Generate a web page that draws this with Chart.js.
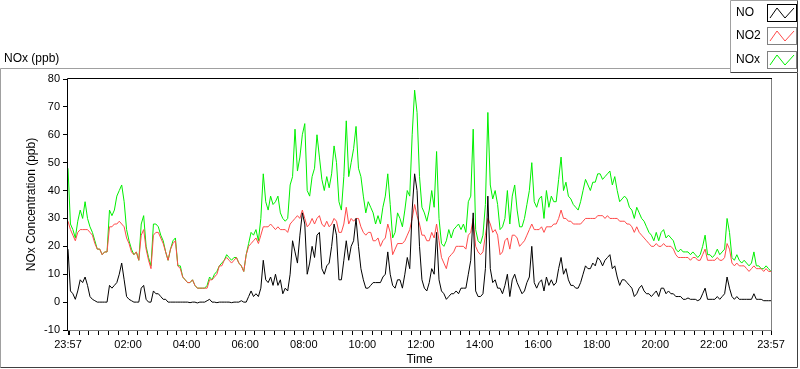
<!DOCTYPE html>
<html>
<head>
<meta charset="utf-8">
<script src="https://cdn.jsdelivr.net/npm/chart.js@4.4.1/dist/chart.umd.min.js"></script>
<style>
  body { margin: 0; background: #fff; }
  canvas { display: block; }
</style>
</head>
<body>
<canvas id="noxChart" width="800" height="369"></canvas>
<script>
// sampling: one value every 5 minutes, starting 23:57
const startClock = 23 * 60 + 57;
const stepMinutes = 5;

const seriesNames = ['NO', 'NO2', 'NOx'];

const noValues = [
  19, 4, 3, 1, 4, 8, 7, 9, 6, 2, 1, 0.5,
  0, 0, 0, 0, 0, 6, 5, 6, 7, 10, 14, 8,
  2, 1, 0.5, 0, 0, 0, 5, 6, 1, 0, 0, 4,
  3, 3, 2, 1, 1, 0, 0, 0, 0, 0, 0, 0,
  0, 0, -0.2, 0, 0, -0.3, 0, 0, 0, 0.5, 1, 0,
  0, -0.2, 0, 0, 0, 0, 0, -0.2, 0, 0, 0, 0.5,
  0, 0, 2, 4, 2, 3, 2, 5, 15, 8, 7, 9,
  6, 10, 6, 8, 3, 5, 4, 10, 22, 18, 14, 24,
  32, 28, 10, 14, 20, 16, 24, 25, 12, 10, 13, 14,
  20, 28, 24, 8, 8, 15, 22, 15, 20, 22, 30, 20,
  12, 8, 5, 5, 6, 7, 7, 7, 7, 9, 10, 18,
  10, 6, 5, 8, 8, 5, 10, 16, 12, 33, 46, 40,
  20, 8, 5, 4, 7, 12, 10, 25, 8, 4, 3, 1,
  2, 3, 3, 4, 3, 5, 5, 5, 10, 15, 32, 4,
  2, 2, 3, 12, 38, 12, 7, 8, 5, 5, 3, 6,
  10, 2, 8, 10, 7, 5, 3, 4, 7, 9, 20, 7,
  5, 7, 8, 4, 9, 6, 8, 6, 7, 12, 16, 10,
  12, 8, 6, 6, 5, 5, 7, 10, 13, 12, 12, 14,
  13, 16, 15, 13, 15, 16, 17, 12, 13, 9, 6, 8,
  8, 7, 6, 5, 2, 3, 5, 6, 4, 3, 3, 2,
  3, 4, 2, 5, 5, 3, 4, 3, 3, 2, 2, 2,
  1, 1, 1.5, 1, 1, 1, 0.5, 1, 3, 5, 1, 1,
  1, 1, 2, 1, 2, 3, 9, 5, 2, 1, 2, 1,
  1, 1, 1, 1, 1, 3, 1, 1, 1, 0.5, 0.5, 0.5,
  0.5
];

const no2Values = [
  29, 26, 24, 22, 25, 26, 26, 26, 26, 25, 24, 21,
  19, 19, 17, 18, 18, 27, 27, 28, 28, 29, 28, 27,
  23, 21, 18, 17, 18, 15, 24, 26, 19, 15, 12, 24,
  25, 25, 23, 21, 18, 15, 19, 21, 22, 13, 12, 9,
  8, 7, 7, 8, 6, 5, 5, 5, 5, 5, 8, 8,
  9, 10, 13, 13, 15, 16, 15, 14, 15, 16, 14, 13,
  11, 17, 20, 21, 22, 23, 21, 24, 27, 27, 27, 28,
  27, 26, 27, 26, 26, 26, 25, 28, 29, 30, 31, 30,
  33, 30, 27, 28, 30, 28, 30, 31, 28, 27, 29, 27,
  28, 30, 29, 25, 25, 28, 34, 28, 30, 29, 30, 30,
  27, 25, 24, 25, 25, 22, 22, 23, 20, 22, 23, 28,
  25, 17, 19, 21, 21, 21, 22, 24, 26, 30, 35, 31,
  28, 24, 24, 22, 22, 25, 23, 28, 22, 16, 14, 12,
  16, 17, 18, 20, 20, 20, 20, 19, 24, 25, 30, 20,
  18, 17, 18, 24, 30, 28, 25, 26, 24, 17, 18, 22,
  23, 19, 24, 24, 23, 20, 21, 22, 24, 26, 28, 26,
  26, 26, 27, 25, 27, 27, 27, 28, 28, 30, 33, 30,
  30, 29, 29, 28, 28, 28, 28, 29, 30, 30, 30, 30,
  30, 31, 31, 31, 30, 31, 30, 30, 30, 30, 29, 29,
  29, 28, 28, 27, 25, 27, 25, 24, 23, 22, 21, 20,
  20, 21, 20, 20, 21, 20, 20, 20, 19, 17, 16, 16,
  16, 16, 16, 15, 16, 16, 15, 15, 17, 19, 15, 15,
  15, 15, 16, 15, 15, 16, 21, 19, 14, 13, 14, 13,
  13, 13, 12, 11, 12, 13, 12, 12, 12, 11, 12, 11,
  11
];

const noxValues = [
  48, 28, 26, 23, 29, 33, 30, 36, 30, 27, 25, 22,
  19, 19, 17, 18, 18, 33, 31, 33, 38, 40, 42, 36,
  26, 22, 19, 17, 18, 15, 28, 31, 20, 16, 13, 28,
  28, 27, 24, 22, 18, 15, 19, 22, 23, 13, 13, 9,
  8, 7, 7, 8, 6, 5, 5, 5, 5, 6, 9, 8,
  10, 11, 13, 14, 15, 17, 16, 15, 16, 16, 14, 13,
  11, 17, 21, 25, 24, 26, 22, 30, 46, 36, 33, 38,
  35, 36, 38, 32, 30, 29, 30, 42, 45, 62, 47, 52,
  60, 64, 40, 38, 45, 48, 60, 52, 44, 40, 45, 41,
  46, 56, 50, 36, 33, 45, 65, 45, 50, 55, 63, 48,
  45, 38, 32, 36, 34, 32, 28, 31, 28, 34, 38, 46,
  35, 23, 25, 32, 30, 27, 33, 40, 38, 60, 76, 68,
  45, 34, 32, 29, 33, 40, 34, 54, 30, 21, 20, 22,
  26, 23, 26, 27, 28, 26, 28, 25, 36, 38, 62, 26,
  22, 21, 24, 35, 68, 42, 37, 40, 35, 26, 27, 30,
  40, 28, 38, 42, 33, 27, 27, 30, 35, 40, 50, 36,
  34, 37, 38, 30, 40, 34, 38, 36, 36, 44, 52, 40,
  43, 38, 37, 35, 34, 33, 36, 40, 44, 42, 40, 43,
  43, 46, 46, 44, 45, 46, 47, 42, 45, 40, 36, 37,
  38, 37, 34, 33, 30, 34, 32, 30, 29, 27, 25, 24,
  22, 25, 22, 25, 26, 23, 24, 23, 22, 19, 18, 19,
  18, 18, 18, 17, 18, 17, 16, 17, 20, 24, 17, 17,
  16, 17, 19, 17, 18, 19, 30, 25, 16, 15, 17, 15,
  14, 15, 14, 13, 14, 18, 13, 13, 12, 12, 13, 12,
  11
];

const yTicks = [-10, 0, 10, 20, 30, 40, 50, 60, 70, 80];
const xTickLabels = ['23:57', '02:00', '04:00', '06:00', '08:00', '10:00', '12:00',
                     '14:00', '16:00', '18:00', '20:00', '22:00', '23:57'];

const seriesColors = ['#000000', '#ff4a4a', '#00f000'];
const uiFont = "'Liberation Sans', Arial, sans-serif";

// minutes after 23:57 for a clock string
function offsetOf(txt, i) {
  if (i === xTickLabels.length - 1) return 1440;
  const [h, m] = txt.split(':').map(Number);
  return ((h * 60 + m) - startClock + 1440) % 1440;
}
const tickText = {};
xTickLabels.forEach((t, i) => { tickText[offsetOf(t, i)] = t; });

// minor ticks every 20 clock minutes
const xTickValues = [0];
for (let v = 3; v < 1440; v += 20) xTickValues.push(v);
xTickValues.push(1440);

const xMinutes = noValues.map((_, i) => i * stepMinutes);
const toXY = vals => vals.map((v, i) => ({ x: xMinutes[i], y: v }));

const framePlugin = {
  id: 'frame',
  beforeDraw(chart) {
    const c = chart.ctx;
    c.save();
    c.fillStyle = '#fff';
    c.fillRect(0, 0, chart.width, chart.height);
    // outer panel
    c.lineWidth = 1;
    c.strokeStyle = '#a0a0a0';
    c.beginPath();
    c.moveTo(0.5, 367.5); c.lineTo(0.5, 68.5); c.lineTo(797.5, 68.5);
    c.stroke();
    c.strokeStyle = '#404040';
    c.beginPath();
    c.moveTo(797.5, 68.5); c.lineTo(797.5, 367.5); c.lineTo(0.5, 367.5);
    c.stroke();
    // panel caption
    c.fillStyle = '#000';
    c.font = '12px ' + uiFont;
    c.textBaseline = 'middle';
    c.fillText('NOx (ppb)', 4, 59);
    c.restore();
  },
  afterDatasetsDraw(chart) {
    const c = chart.ctx;
    const a = chart.chartArea;
    c.save();
    c.lineWidth = 1;
    c.strokeStyle = '#000';
    c.beginPath();
    c.moveTo(a.left - 0.5, a.bottom + 1); c.lineTo(a.left - 0.5, a.top - 0.5); c.lineTo(a.right + 1, a.top - 0.5);
    c.stroke();
    c.strokeStyle = '#808080';
    c.beginPath();
    c.moveTo(a.right + 0.5, a.top); c.lineTo(a.right + 0.5, a.bottom + 0.5); c.lineTo(a.left, a.bottom + 0.5);
    c.stroke();
    c.restore();
  },
  afterDraw(chart) {
    const c = chart.ctx;
    c.save();
    // legend box
    c.fillStyle = '#fff';
    c.fillRect(730, 0, 68, 73);
    c.strokeStyle = '#a0a0a0';
    c.lineWidth = 1;
    c.beginPath();
    c.moveTo(730.5, 72.5); c.lineTo(730.5, 0.5); c.lineTo(797.5, 0.5);
    c.stroke();
    c.strokeStyle = '#404040';
    c.beginPath();
    c.moveTo(797.5, 0.5); c.lineTo(797.5, 72.5); c.lineTo(730.5, 72.5);
    c.stroke();
    c.font = '12px ' + uiFont;
    c.textBaseline = 'middle';
    chart.data.datasets.forEach((ds, i) => {
      const y = 3.5 + i * 23.5;
      c.fillStyle = '#000';
      c.fillText(ds.label, 736, y + 9);
      c.strokeStyle = i === 0 ? '#000' : '#808080';
      c.strokeRect(767.5, Math.round(y) + 0.5, 29, 17);
      c.strokeStyle = ds.borderColor;
      c.beginPath();
      const by = Math.round(y);
      c.moveTo(770, by + 14); c.lineTo(777, by + 4); c.lineTo(785, by + 14); c.lineTo(794, by + 4);
      c.stroke();
    });
    c.restore();
  }
};

const ctx = document.getElementById('noxChart').getContext('2d');
const noxChart = new Chart(ctx, {
  type: 'line',
  data: {
    datasets: [
      { label: seriesNames[0], data: toXY(noValues), borderColor: seriesColors[0] },
      { label: seriesNames[1], data: toXY(no2Values), borderColor: seriesColors[1] },
      { label: seriesNames[2], data: toXY(noxValues), borderColor: seriesColors[2] }
    ]
  },
  options: {
    responsive: false,
    animation: false,
    layout: { padding: { top: 79, right: 29, left: 0, bottom: 0 } },
    elements: {
      point: { radius: 0 },
      line: { borderWidth: 1, tension: 0 }
    },
    plugins: {
      legend: { display: false },
      tooltip: { enabled: false }
    },
    scales: {
      x: {
        type: 'linear',
        min: 0,
        max: 1440,
        afterBuildTicks: s => { s.ticks = xTickValues.map(v => ({ value: v })); },
        afterFit: s => { s.height = 39; },
        ticks: {
          autoSkip: false,
          maxRotation: 0,
          padding: 3,
          color: '#000',
          font: { family: uiFont, size: 11 },
          callback: v => tickText[v] || ''
        },
        grid: { drawOnChartArea: false, tickLength: 5, color: '#000' },
        border: { display: false },
        title: {
          display: true,
          text: 'Time',
          color: '#000',
          font: { family: uiFont, size: 12 },
          padding: { top: 0, bottom: 2 }
        }
      },
      y: {
        min: -10,
        max: 80,
        afterBuildTicks: s => { s.ticks = yTicks.map(v => ({ value: v })); },
        afterFit: s => { s.width = 68; },
        ticks: {
          padding: 3,
          color: '#000',
          font: { family: uiFont, size: 11 }
        },
        grid: { drawOnChartArea: false, tickLength: 5, color: '#000' },
        border: { display: false },
        title: {
          display: true,
          text: 'NOx Concentration (ppb)',
          color: '#000',
          font: { family: uiFont, size: 12 },
          padding: { top: 24, bottom: 0 }
        }
      }
    }
  },
  plugins: [framePlugin]
});
</script>
</body>
</html>
